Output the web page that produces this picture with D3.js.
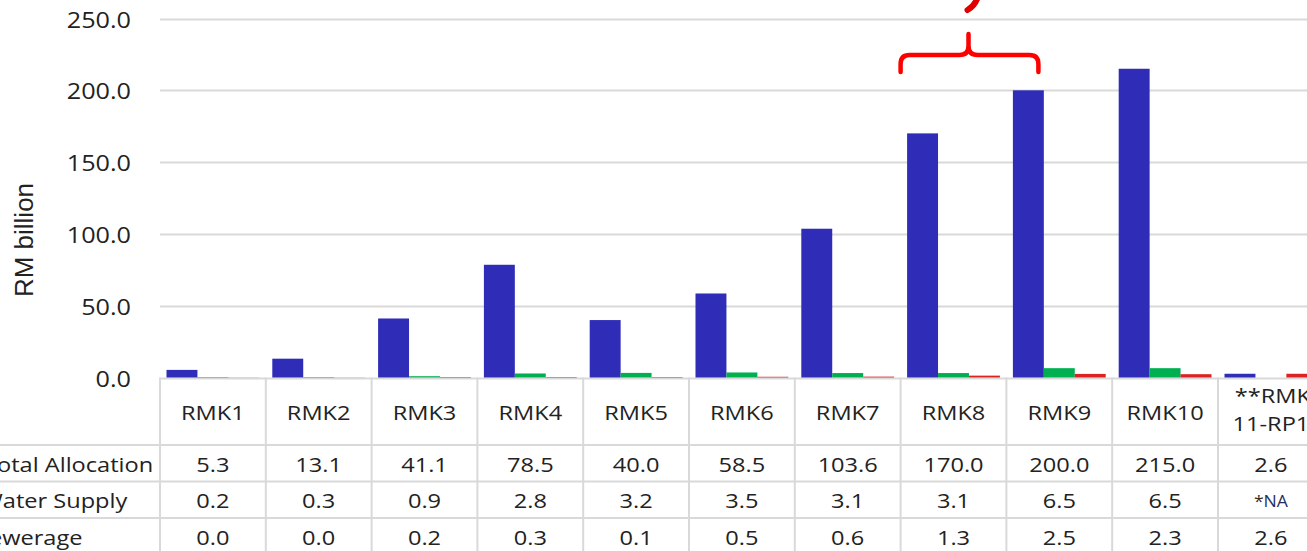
<!DOCTYPE html>
<html>
<head>
<meta charset="utf-8">
<script src="https://cdn.jsdelivr.net/npm/d3@7"></script>
<style>
  html, body { margin: 0; padding: 0; background: #fff; overflow: hidden; }
  svg { display: block; }
</style>
</head>
<body>
<svg id="chart" width="1307" height="551"></svg>
<script>
// Malaysia Plan allocations (RM billion)
const categories = ["RMK1", "RMK2", "RMK3", "RMK4", "RMK5", "RMK6", "RMK7", "RMK8", "RMK9", "RMK10", "**RMK11-RP1"];
const headerLines = [["RMK1"], ["RMK2"], ["RMK3"], ["RMK4"], ["RMK5"], ["RMK6"], ["RMK7"], ["RMK8"], ["RMK9"], ["RMK10"], ["**RMK", "11-RP1"]];
const seriesNames = ["Total Allocation", "Water Supply", "Sewerage"];
const totalAllocation = [5.3, 13.1, 41.1, 78.5, 40.0, 58.5, 103.6, 170.0, 200.0, 215.0, 2.6];
const waterSupply = [0.2, 0.3, 0.9, 2.8, 3.2, 3.5, 3.1, 3.1, 6.5, 6.5, null];
const sewerage = [0.0, 0.0, 0.2, 0.3, 0.1, 0.5, 0.6, 1.3, 2.5, 2.3, 2.6];
const yTicks = [0, 50, 100, 150, 200, 250];

const seriesValues = [totalAllocation, waterSupply, sewerage];
const colors = ["#2f2db8", "#00b050", "#dc2222"];

const svg = d3.select("#chart");
const FONT = "'Open Sans', sans-serif";
const SX = 1.18;         // horizontal stretch of table/axis text
const gridColor = "#d9d9d9";
const textColor = "#222";

const plotLeft = 160, colW = 105.8;
const plotRight = plotLeft + colW * categories.length;
const y0 = 377.5, yTop = 18.5;

const x = d3.scaleBand().domain(categories).range([plotLeft, plotRight]).paddingInner(0).paddingOuter(0);
const xs = d3.scaleBand().domain(seriesNames).range([0, x.bandwidth()]).paddingInner(0).paddingOuter(0.21);
const y = d3.scaleLinear().domain([0, 250]).range([y0, yTop]);

// stretched text helper
function stext(g, tx, ty, str, opts = {}) {
  const t = g.append("g").attr("transform", `translate(${tx},${ty}) scale(${opts.sx || SX},1)`)
    .append("text")
    .attr("x", 0).attr("y", 0)
    .attr("text-anchor", opts.anchor || "middle")
    .attr("dominant-baseline", "central")
    .attr("font-family", FONT)
    .attr("font-size", opts.size || 20)
    .attr("fill", opts.fill || textColor)
    .text(str);
  return t;
}

// gridlines
svg.append("g").selectAll("line").data(yTicks).join("line")
  .attr("x1", plotLeft).attr("x2", 1307)
  .attr("y1", d => Math.round(y(d)) + 0.5).attr("y2", d => Math.round(y(d)) + 0.5)
  .attr("stroke", gridColor).attr("stroke-width", 2);

// y tick labels
const yAxisG = svg.append("g");
yTicks.forEach(t => stext(yAxisG, 131, y(t) + 1, d3.format(".1f")(t), { anchor: "end", size: 21, sx: 1.2 }));

// y axis title
svg.append("text")
  .attr("transform", `translate(33,${240}) rotate(-90)`)
  .attr("text-anchor", "middle")
  .attr("font-family", "'Liberation Sans', Arial, sans-serif")
  .attr("font-size", 26)
  .attr("fill", textColor)
  .text("RM billion");

// bars
const barsG = svg.append("g");
seriesNames.forEach((s, si) => {
  const vals = seriesValues[si];
  barsG.append("g").selectAll("rect")
    .data(categories.map((c, i) => ({ c, v: vals[i] })).filter(d => d.v !== null))
    .join("rect")
    .attr("x", d => x(d.c) + xs(s))
    .attr("width", xs.bandwidth())
    .attr("y", d => y(d.v))
    .attr("height", d => Math.max(0.5, y0 - y(d.v)))
    .attr("fill", colors[si])
    .attr("fill-opacity", d => d.v === 0 ? 0.25 : 1);
});

// data table
const tableG = svg.append("g");
const rowLines = [445, 481.5, 518];
rowLines.forEach(ly => tableG.append("line")
  .attr("x1", 0).attr("x2", 1307).attr("y1", ly).attr("y2", ly)
  .attr("stroke", gridColor).attr("stroke-width", 2));
d3.range(categories.length + 1).forEach(i => {
  const lx = plotLeft + i * colW;
  tableG.append("line")
    .attr("x1", lx).attr("x2", lx).attr("y1", y0).attr("y2", 551)
    .attr("stroke", gridColor).attr("stroke-width", 2);
});

// column headers
categories.forEach((c, i) => {
  const cx = x(c) + x.bandwidth() / 2;
  const lines = headerLines[i];
  if (lines.length === 1) stext(tableG, cx, 412, lines[0]);
  else {
    stext(tableG, cx + 2, 395, lines[0]);
    stext(tableG, cx, 423, lines[1]);
  }
});

// row labels and values
const rowY = [464, 500, 537];
const labelX = [-16, -19, -24];
seriesNames.forEach((s, si) => {
  stext(tableG, labelX[si], rowY[si], s, { anchor: "start" });
  seriesValues[si].forEach((v, i) => {
    const cx = x(categories[i]) + x.bandwidth() / 2;
    if (v === null) {
      const g = tableG.append("g").attr("transform", `translate(${cx},${rowY[si]}) scale(1.1,1)`);
      const t = g.append("text").attr("text-anchor", "middle").attr("dominant-baseline", "central")
        .attr("font-family", FONT).attr("font-size", 16);
      t.append("tspan").attr("fill", "#3a2a1a").text("*");
      t.append("tspan").attr("fill", "#1f2f5f").text("NA");
    } else {
      stext(tableG, cx, rowY[si], d3.format(".1f")(v));
    }
  });
});

// red brace over RMK8–RMK9 with a mark above
const bx0 = x("RMK8"), bx1 = x("RMK9") + 32, bmid = (bx0 + bx1) / 2 - 1;
const bTop = 34, bMid = 55, bEnd = 72, r = 9;
const brace = d3.path();
brace.moveTo(bx0, bEnd);
brace.lineTo(bx0, bMid + r);
brace.quadraticCurveTo(bx0, bMid, bx0 + r, bMid);
brace.lineTo(bmid - r, bMid);
brace.quadraticCurveTo(bmid, bMid, bmid, bMid - r);
brace.lineTo(bmid, bTop);
brace.moveTo(bmid, bMid - r);
brace.quadraticCurveTo(bmid, bMid, bmid + r, bMid);
brace.lineTo(bx1 - r, bMid);
brace.quadraticCurveTo(bx1, bMid, bx1, bMid + r);
brace.lineTo(bx1, bEnd);
svg.append("path").attr("d", brace.toString())
  .attr("fill", "none").attr("stroke", "#ff0000").attr("stroke-width", 4.5)
  .attr("stroke-linecap", "round").attr("stroke-linejoin", "round");

svg.append("path")
  .attr("d", `M${bmid + 9},-2 Q${bmid + 6},6 ${bmid - 1},10`)
  .attr("fill", "none").attr("stroke", "#e00000").attr("stroke-width", 6)
  .attr("stroke-linecap", "round");
</script>
</body>
</html>
